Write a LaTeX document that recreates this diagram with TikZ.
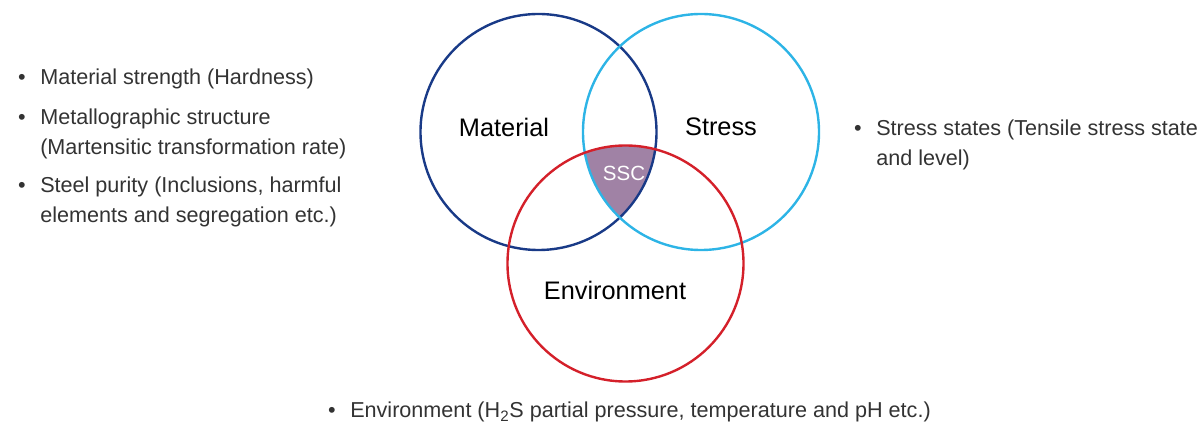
\documentclass[tikz,border=0pt]{standalone}
\usepackage{fontspec}
\setmainfont{Liberation Sans}
\usetikzlibrary{positioning}
\definecolor{matblue}{RGB}{25,58,135}
\definecolor{strblue}{RGB}{45,180,230}
\definecolor{envred}{RGB}{212,32,42}
\definecolor{sscfill}{RGB}{160,130,165}
\tikzset{
  ring/.style={line width=1.8pt},
  circlabel/.style={font=\fontsize{19}{22}\selectfont, text=black},
  itemtext/.style={anchor=base west, align=left, inner sep=0pt, text=black!80, font=\fontsize{16.2}{22.5}\selectfont},
  bul/.style={anchor=base, inner sep=0pt, text=black!80, font=\fontsize{16.2}{22.5}\selectfont},
}
\begin{document}
\begin{tikzpicture}[x=0.75pt,y=-0.75pt]
  \useasboundingbox (0,0) rectangle (1204,423);
  \def\rad{88.5pt}
  \coordinate (M) at (538.5,132);
  \coordinate (S) at (701,132);
  \coordinate (E) at (625.5,263.5);

  % common part of the three circles
  \begin{scope}
    \clip (M) circle[radius=\rad];
    \clip (S) circle[radius=\rad];
    \fill[sscfill] (E) circle[radius=\rad];
  \end{scope}

  \draw[ring, matblue] (M) circle[radius=\rad];
  \draw[ring, strblue] (S) circle[radius=\rad];
  \draw[ring, envred] (E) circle[radius=\rad];

  \node[circlabel] (mat) at (504,127) {Material};
  \node[circlabel] (str) at (721,127) {Stress};
  \node[circlabel] (env) at (615,290) {Environment};
  \node[circlabel, text=white, font=\fontsize{15.4}{18}\selectfont] (ssc) at (624,173) {SSC};

  % base = last line of each text
  \node[itemtext] (l1) at (40,85) {Material strength (Hardness)};
  \node[itemtext] (l2) at (40,155) {Metallographic structure\\(Martensitic transformation rate)};
  \node[itemtext] (l3) at (40,223) {Steel purity (Inclusions, harmful\\elements and segregation etc.)};
  \node[itemtext] (r1) at (876,166) {Stress states (Tensile stress state\\and level)};
  \node[itemtext] (b1) at (350,418) {Environment (H\textsubscript{2}S partial pressure, temperature and pH etc.)};

  \foreach \n/\k in {l1/0,l2/1,l3/1,r1/1,b1/0}
    \node[bul] (\n-dot) at ([xshift=-13.5pt,yshift=\k*22.5pt]\n.base west) {\textbullet};
\end{tikzpicture}
\end{document}
